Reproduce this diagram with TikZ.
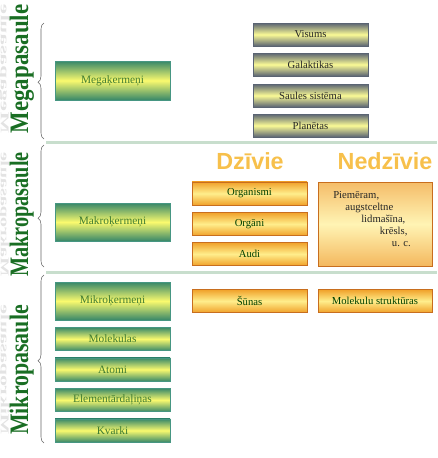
\documentclass[tikz,border=0pt]{standalone}
\usepackage{graphicx}
\usepackage{fontspec}
\setmainfont{Liberation Serif}
\newfontfamily\titlefont{Liberation Sans}
\usetikzlibrary{decorations.pathreplacing}

\definecolor{worldgreen}{RGB}{25,110,35}
\definecolor{boxgreen}{RGB}{55,135,105}
\definecolor{boxyellow}{RGB}{250,250,110}
\definecolor{greenline}{RGB}{70,150,130}
\definecolor{textgreen}{RGB}{65,125,50}
\definecolor{slate}{RGB}{90,100,115}
\definecolor{paleyellow}{RGB}{250,250,150}
\definecolor{boxorange}{RGB}{240,160,40}
\definecolor{orangelight}{RGB}{255,238,140}
\definecolor{orangeline}{RGB}{200,110,30}
\definecolor{titleorange}{RGB}{247,192,75}
\definecolor{sepgreen}{RGB}{200,222,205}

\begin{document}
\begin{tikzpicture}[x=0.75pt,y=-0.75pt,
    world/.style={text=worldgreen,font=\fontsize{20}{20}\selectfont\bfseries,rotate=90,anchor=base,inner sep=0pt},
    ghost/.style={world,text=gray!22},
    iekava/.style={decorate,decoration={brace,amplitude=4.5pt,aspect=#1},draw=black!60,thin},
    kermenis/.style={draw=greenline,top color=boxgreen,bottom color=boxgreen,middle color=boxyellow,text=textgreen,font=\fontsize{8.5}{10}\selectfont,minimum width=86.25pt,minimum height=17.6pt,inner sep=0pt},
    kosmoss/.style={draw=slate,top color=slate,bottom color=slate,middle color=paleyellow,text=black!85,font=\fontsize{8}{10}\selectfont,minimum width=86.25pt,minimum height=17.25pt,inner sep=0pt},
    dzivs/.style={draw=orangeline,top color=boxorange,bottom color=boxorange,middle color=orangelight,text=black!75!green,font=\fontsize{8}{10}\selectfont,minimum width=86.25pt,minimum height=17.6pt,inner sep=0pt},
    nedzivs/.style={draw=orangeline,top color=boxorange!70,bottom color=boxorange!75,middle color=orangelight!65,minimum width=85.5pt,minimum height=63pt,inner sep=0pt},
    virsraksts/.style={font=\titlefont\bfseries\fontsize{17.5}{18}\selectfont,text=titleorange,inner sep=0pt},
    separator/.style={line width=2.25pt,draw=sepgreen}]
    \useasboundingbox (0,0) rectangle (437,458);

    % pasaules
    \node[ghost] (megaghost) at (1,69) {\scalebox{0.86}[-0.45]{Megapasaule}};
    \node[ghost] (makroghost) at (1,214.5) {\scalebox{0.76}[-0.45]{Makropasaule}};
    \node[ghost] (mikroghost) at (1,370) {\scalebox{0.82}[-0.45]{Mikropasaule}};
    \node[world] (megapasaule) at (28,69) {\scalebox{0.86}[1]{Megapasaule}};
    \node[world] (makropasaule) at (28,214.5) {\scalebox{0.76}[1]{Makropasaule}};
    \node[world] (mikropasaule) at (28,370) {\scalebox{0.82}[1]{Mikropasaule}};

    \draw[iekava=0.49] (44,139) -- (44,23);
    \draw[iekava=0.40] (44,267) -- (44,145);
    \draw[iekava=0.49] (44,443) -- (44,275);

    \draw[separator] (46,142) -- (437,142);
    \draw[separator] (46,272) -- (437,272);

    % kermeni
    \node[kermenis,minimum height=29.25pt] (mega) at (112.5,80.5) {Megaķermeņi};
    \node[kermenis,minimum height=28.5pt] (makro) at (112.5,222) {Makroķermeņi};
    \node[kermenis,minimum height=28.5pt] (mikro) at (112.5,301) {Mikroķermeņi};
    \node[kermenis] (molekulas) at (112.5,339) {Molekulas};
    \node[kermenis] (atomi) at (112.5,369.5) {Atomi};
    \node[kermenis] (daljinas) at (112.5,400) {Elementārdaļiņas};
    \node[kermenis] (kvarki) at (112.5,430.5) {Kvarki};

    \node[kosmoss] (visums) at (310.5,34.5) {Visums};
    \node[kosmoss] (galaktikas) at (310.5,64.5) {Galaktikas};
    \node[kosmoss] (saule) at (310.5,95.5) {Saules sistēma};
    \node[kosmoss] (planetas) at (310.5,125.5) {Planētas};

    % dzivie un nedzivie
    \node[virsraksts] (dzivie) at (250,161) {Dzīvie};
    \node[virsraksts] (nedzivie) at (385,161) {Nedzīvie};

    \node[dzivs] (organismi) at (249.5,193.5) {Organismi};
    \node[dzivs] (organi) at (249.5,224) {Orgāni};
    \node[dzivs] (audi) at (249.5,254) {Audi};
    \node[dzivs] (sunas) at (249.5,301) {Šūnas};

    \node[nedzivs] (piemeri) at (375,224) {};
    \node[anchor=north west,align=left,inner sep=0pt,text=black!85,font=\fontsize{8}{9}\selectfont] (piemeriteksts) at (333,191)
      {Piemēram,\\\hspace*{9pt}augstceltne\\\hspace*{21pt}lidmašīna,\\\hspace*{35pt}krēsls,\\\hspace*{44pt}u. c.};
    \node[dzivs,minimum width=85.5pt] (strukturas) at (375,301) {Molekulu struktūras};
\end{tikzpicture}
\end{document}
